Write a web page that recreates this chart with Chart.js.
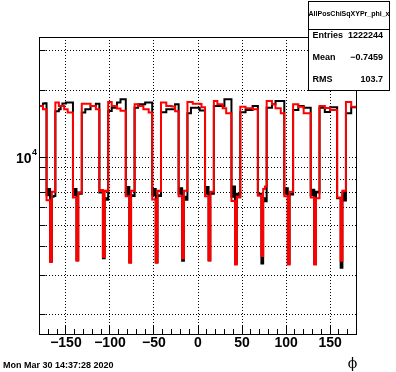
<!DOCTYPE html>
<html>
<head>
<meta charset="utf-8">
<script src="https://cdn.jsdelivr.net/npm/chart.js@4.4.1/dist/chart.umd.min.js"></script>
<style>
  html, body { margin: 0; padding: 0; background: #fff; }
  canvas { display: block; }
</style>
</head>
<body>
<canvas id="phiChart" width="396" height="372"></canvas>
<script>
// histogram: 180 bins of 2 degrees between -180 and 180
const phiMin = -180;
const phiMax = 180;
const binWidth = 2;

// one line per sector gap (5 bins) + following plateau (10 bins)
const redCounts = [
  17000, 17000, 17000, 16450, 16450,
  6470, 6470, 3430, 7050, 7050, 17600, 17600, 17000, 17000, 17000, 16450, 16450, 15900, 15900, 15900,
  6650, 6650, 3470, 6980, 6980, 17400, 17400, 17400, 17400, 17400, 17000, 17000, 17000, 16450, 16450,
  7100, 7180, 3610, 7120, 7100, 17730, 17730, 17000, 17000, 17000, 16550, 16550, 16200, 16200, 16200,
  6740, 6740, 3400, 7120, 7120, 17300, 17300, 17000, 17000, 17000, 16450, 16450, 16450, 15900, 15900,
  6520, 6520, 3400, 7120, 7080, 17600, 17600, 17600, 17000, 17000, 17000, 16900, 16900, 16100, 16100,
  6740, 6740, 3560, 7120, 7120, 17730, 17730, 17730, 17400, 17400, 17400, 17400, 17350, 16780, 16780,
  6740, 6740, 3470, 7050, 7050, 17900, 17900, 17300, 17300, 17300, 16600, 16600, 15800, 15800, 15800,
  6420, 6420, 3340, 6700, 6650, 16850, 16850, 16850, 16600, 16600, 16600, 16600, 16450, 16450, 16450,
  6780, 6780, 3650, 7250, 7450, 17900, 17900, 17900, 17300, 17300, 16600, 16600, 16600, 15800, 15800,
  6740, 6740, 3340, 7050, 7050, 17300, 17300, 17300, 16850, 16850, 16850, 15800, 15800, 15800, 15800,
  6650, 6650, 3340, 6600, 6600, 17000, 17000, 17000, 16650, 16650, 16650, 16300, 16300, 16300, 16300,
  6650, 6650, 3470, 7120, 7120, 17700, 17700, 17700, 16850, 16850
];

const blackCounts = [
  17000, 17000, 17000, 17450, 17500,
  6800, 7250, 3460, 6700, 6750, 16100, 16100, 16450, 17000, 17450, 17450, 17600, 17600, 17600, 17600,
  6800, 7250, 3500, 7000, 6900, 15900, 15900, 16450, 16450, 16450, 17000, 17000, 17000, 17400, 17400,
  7000, 7150, 3560, 6600, 6500, 16150, 16150, 16700, 16700, 16700, 17600, 17600, 18200, 18200, 18200,
  6800, 7400, 3420, 6800, 6750, 16700, 16700, 17300, 17300, 17300, 17300, 17600, 17600, 17600, 17600,
  6800, 7250, 3420, 6800, 6750, 15950, 15950, 15950, 16450, 16450, 16450, 16450, 16450, 17300, 17300,
  6900, 7300, 3470, 6700, 6500, 15800, 15800, 16700, 16700, 16700, 16700, 16700, 16250, 16250, 16250,
  6900, 7400, 3500, 7000, 6900, 17000, 17000, 17000, 17000, 17000, 17000, 18200, 18200, 18200, 18200,
  6700, 7450, 3370, 6900, 6700, 15950, 15950, 15950, 16300, 16300, 16300, 16300, 17000, 17000, 17000,
  6800, 6900, 3380, 6600, 6400, 16700, 16700, 16700, 17300, 17300, 17900, 17900, 17900, 17900, 17900,
  6900, 7300, 3370, 6900, 6850, 16300, 16300, 16300, 17000, 17000, 17000, 16700, 16700, 16700, 16700,
  6800, 7200, 3370, 7050, 7000, 16700, 16700, 16700, 16000, 16000, 16000, 16780, 16780, 16780, 16780,
  6590, 6590, 3230, 7000, 6450, 15800, 15800, 15800, 16780, 16780
];

const xMajorTicks = [-150, -100, -50, 0, 50, 100, 150];
const xMinorTicks = [-170, -160, -140, -130, -120, -110, -90, -80, -70, -60, -40, -30, -20, -10,
  10, 20, 30, 40, 60, 70, 80, 90, 110, 120, 130, 140, 160, 170];
const yGridValues = [2000, 3000, 4000, 5000, 6000, 7000, 8000, 9000, 10000, 20000, 30000];
const yLabelValue = 10000;
const yMin = 1638;
const yMax = 34510;

const statTitle = "AllPosChiSqXYPr_phi_x";
const statNames = ["Entries", "Mean", "RMS"];
const statValues = ["1222244", "\u22120.7459", "103.7"];
const dateText = "Mon Mar 30 14:37:28 2020";
const xTitle = "\u03d5";

function toSteps(counts) {
  const pts = counts.map((c, i) => ({ x: phiMin + i * binWidth, y: c }));
  pts.push({ x: phiMax, y: counts[counts.length - 1] });
  return pts;
}

function align(p) {
  return Math.round(p - 0.5) + 0.5;
}

const rootDecor = {
  id: "rootDecor",
  afterDraw(chart) {
    const { ctx, chartArea: a } = chart;
    const x = chart.scales.x;
    const y = chart.scales.y;
    ctx.save();
    ctx.strokeStyle = "#000";
    ctx.lineWidth = 1;
    ctx.setLineDash([]);

    // tick marks inside the frame, ROOT style
    ctx.beginPath();
    xMajorTicks.forEach(v => {
      const px = align(x.getPixelForValue(v));
      ctx.moveTo(px, a.bottom);
      ctx.lineTo(px, a.bottom - 8);
    });
    xMinorTicks.forEach(v => {
      const px = align(x.getPixelForValue(v));
      ctx.moveTo(px, a.bottom);
      ctx.lineTo(px, a.bottom - 5);
    });
    yGridValues.forEach(v => {
      const py = align(y.getPixelForValue(v));
      ctx.moveTo(a.left, py);
      ctx.lineTo(a.left + (v === yLabelValue ? 8 : 6), py);
    });
    ctx.stroke();

    // frame
    ctx.strokeRect(Math.floor(a.left) + 0.5, Math.floor(a.top) + 0.5,
      Math.round(a.right - a.left), Math.round(a.bottom - a.top));

    // 10^4 label
    const py = y.getPixelForValue(yLabelValue);
    ctx.fillStyle = "#000";
    ctx.font = "bold 14px 'Liberation Sans'";
    ctx.textAlign = "right";
    ctx.textBaseline = "middle";
    ctx.fillText("10", 31.5, py + 1);
    ctx.font = "bold 9px 'Liberation Sans'";
    ctx.textAlign = "left";
    ctx.fillText("4", 32, py - 5);

    // axis title
    ctx.font = "14px 'DejaVu Serif'";
    ctx.textAlign = "center";
    ctx.fillText(xTitle, 352.5, 364);

    // date stamp
    ctx.font = "bold 9px 'Liberation Sans'";
    ctx.textAlign = "left";
    ctx.fillText(dateText, 3, 366);

    // stats box
    const bx = 308.5, by = 1.5, bw = 81, bh = 89;
    ctx.fillStyle = "#fff";
    ctx.fillRect(bx, by, bw, bh);
    ctx.strokeRect(bx, by, bw, bh);
    ctx.beginPath();
    ctx.moveTo(bx, 29.5);
    ctx.lineTo(bx + bw, 29.5);
    ctx.stroke();
    ctx.fillStyle = "#000";
    ctx.font = "bold 7px 'Liberation Sans'";
    ctx.textAlign = "center";
    ctx.fillText(statTitle, bx + bw / 2, 14.5);
    const rowY = [36, 58, 80];
    ctx.font = "bold 9px 'Liberation Sans'";
    statNames.forEach((n, i) => {
      ctx.textAlign = "left";
      ctx.fillText(n, 312.5, rowY[i]);
      ctx.textAlign = "right";
      ctx.fillText(statValues[i], 383, rowY[i]);
    });
    ctx.restore();
  }
};

new Chart(document.getElementById("phiChart"), {
  type: "line",
  data: {
    datasets: [
      {
        label: "red",
        data: toSteps(redCounts),
        borderColor: "#ff0000",
        borderWidth: 2,
        stepped: "after",
        pointRadius: 0,
        fill: false
      },
      {
        label: "black",
        data: toSteps(blackCounts),
        borderColor: "#000000",
        borderWidth: 2,
        stepped: "after",
        pointRadius: 0,
        fill: false
      }
    ]
  },
  options: {
    responsive: false,
    animation: false,
    layout: { padding: { left: 0, right: 39.5, top: 37, bottom: 0 } },
    plugins: { legend: { display: false }, tooltip: { enabled: false } },
    scales: {
      x: {
        type: "linear",
        min: phiMin,
        max: phiMax,
        afterBuildTicks: s => { s.ticks = xMajorTicks.map(v => ({ value: v })); },
        afterFit: s => { s.height = 38; },
        grid: { color: "#000", lineWidth: 1, drawTicks: false },
        border: { display: false, dash: [1, 2] },
        ticks: {
          padding: 1,
          color: "#000",
          font: { family: "'Liberation Sans'", size: 14, weight: "bold" },
          maxRotation: 0,
          autoSkip: false,
          callback: v => (v < 0 ? "\u2212" + Math.abs(v) : String(v))
        }
      },
      y: {
        type: "logarithmic",
        min: yMin,
        max: yMax,
        afterBuildTicks: s => { s.ticks = yGridValues.map(v => ({ value: v })); },
        afterFit: s => { s.width = 39.5; },
        grid: { color: "#000", lineWidth: 1, drawTicks: false },
        border: { display: false, dash: [1, 2] },
        ticks: { display: false }
      }
    }
  },
  plugins: [rootDecor]
});
</script>
</body>
</html>
